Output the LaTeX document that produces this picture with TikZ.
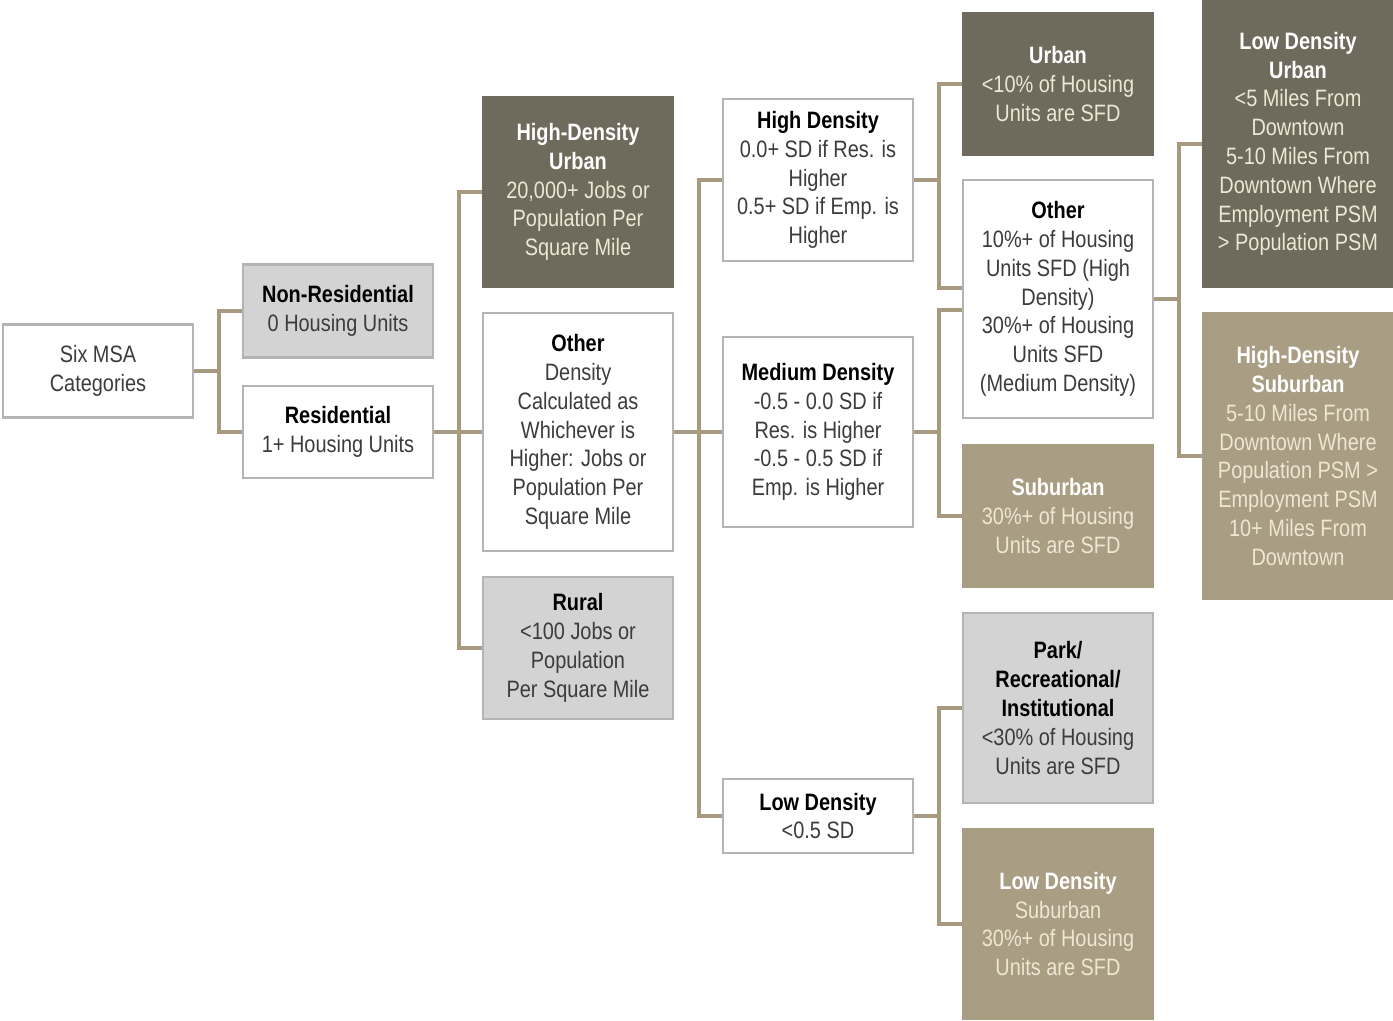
\documentclass[tikz,border=0pt]{standalone}
\usepackage{fontspec}
\setmainfont{Liberation Sans}[FakeStretch=0.84]
\usetikzlibrary{positioning}
\usepackage{xcolor}
\definecolor{urbandark}{HTML}{6E6A5C}
\definecolor{suburbtan}{HTML}{A99D83}
\definecolor{boxgrey}{HTML}{D3D3D3}
\definecolor{edgegrey}{HTML}{B4B4B4}
\definecolor{linktan}{HTML}{A89A80}
\definecolor{bodytext}{HTML}{3C3C3C}
\definecolor{paletext}{HTML}{EDE7D3}

\tikzset{
  cat/.style={draw=edgegrey,line width=1.2pt,minimum width=3.8cm,align=center,inner sep=2pt,
    font=\fontsize{13.5}{16.4}\selectfont},
  whitecat/.style={cat,fill=white,text=bodytext,execute at begin node=\colorlet{headcol}{black}},
  greycat/.style={cat,fill=boxgrey,text=bodytext,execute at begin node=\colorlet{headcol}{black}},
  darkcat/.style={cat,fill=urbandark,draw=urbandark,text=paletext,execute at begin node=\colorlet{headcol}{white}},
  tancat/.style={cat,fill=suburbtan,draw=suburbtan,text=paletext,execute at begin node=\colorlet{headcol}{white}},
  link/.style={draw=linktan,line width=2pt},
}
\newcommand{\cathead}[1]{{\bfseries\color{headcol}#1}}

\begin{document}
\begin{tikzpicture}[x=0.02cm,y=-0.02cm]
  \useasboundingbox (0,0) rectangle (1393,1021);

  % first split
  \node[whitecat,minimum height=1.86cm] (six) at (98,371) {Six MSA\\Categories};
  \node[greycat,minimum height=1.86cm] (nonres) at (338,311) {\cathead{Non-Residential}\\0 Housing Units};
  \node[whitecat,minimum height=1.84cm] (res) at (338,432) {\cathead{Residential}\\1+ Housing Units};

  % density of jobs or population
  \node[darkcat,minimum height=3.8cm] (hdurban) at (578,192) {\cathead{High-Density}\\\cathead{Urban}\\20,000+ Jobs or\\Population Per\\Square Mile};
  \node[whitecat,minimum height=4.76cm] (otherdens) at (578,432) {\cathead{Other}\\Density\\Calculated as\\Whichever is\\Higher: Jobs or\\Population Per\\Square Mile};
  \node[greycat,minimum height=2.84cm] (rural) at (578,648) {\cathead{Rural}\\<100 Jobs or\\Population\\Per Square Mile};

  % SD classes
  \node[whitecat,minimum height=3.24cm] (highd) at (818,180) {\cathead{High Density}\\0.0+ SD if Res. is\\Higher\\0.5+ SD if Emp. is\\Higher};
  \node[whitecat,minimum height=3.8cm] (medd) at (818,432) {\cathead{Medium Density}\\-0.5 - 0.0 SD if\\Res. is Higher\\-0.5 - 0.5 SD if\\Emp. is Higher};
  \node[whitecat,minimum height=1.48cm] (lowd) at (818,816) {\cathead{Low Density}\\<0.5 SD};

  % share of SFD
  \node[darkcat,minimum height=2.84cm] (urban) at (1058,84) {\cathead{Urban}\\<10\% of Housing\\Units are SFD};
  \node[whitecat,minimum height=4.76cm] (othersfd) at (1058,299) {\cathead{Other}\\10\%+ of Housing\\Units SFD (High\\Density)\\30\%+ of Housing\\Units SFD\\(Medium Density)};
  \node[tancat,minimum height=2.84cm] (suburban) at (1058,516) {\cathead{Suburban}\\30\%+ of Housing\\Units are SFD};
  \node[greycat,minimum height=3.8cm] (park) at (1058,708) {\cathead{Park/}\\\cathead{Recreational/}\\\cathead{Institutional}\\<30\% of Housing\\Units are SFD};
  \node[tancat,minimum height=3.8cm] (ldsuburb) at (1058,924) {\cathead{Low Density}\\Suburban\\30\%+ of Housing\\Units are SFD};

  % distance from downtown
  \node[darkcat,minimum height=5.7cm] (ldurban) at (1298,144) {\cathead{Low Density}\\\cathead{Urban}\\<5 Miles From\\Downtown\\5-10 Miles From\\Downtown Where\\Employment PSM\\> Population PSM};
  \node[tancat,minimum height=5.72cm] (hdsuburb) at (1298,456) {\cathead{High-Density}\\\cathead{Suburban}\\5-10 Miles From\\Downtown Where\\Population PSM >\\Employment PSM\\10+ Miles From\\Downtown};

  % tree links
  \draw[link] (six.east) -- ++(25,0) |- (nonres.west);
  \draw[link] (six.east) -- ++(25,0) |- (res.west);
  \draw[link] (res.east) -- ++(25,0) |- (hdurban.west);
  \draw[link] (res.east) -- ++(25,0) |- (otherdens.west);
  \draw[link] (res.east) -- ++(25,0) |- (rural.west);
  \draw[link] (otherdens.east) -- ++(25,0) |- (highd.west);
  \draw[link] (otherdens.east) -- ++(25,0) |- (medd.west);
  \draw[link] (otherdens.east) -- ++(25,0) |- (lowd.west);
  \draw[link] (highd.east) -- ++(25,0) |- (urban.west);
  \draw[link] (highd.east) -- ++(25,0) |- ([yshift=0.22cm]othersfd.west);
  \draw[link] (medd.east) -- ++(25,0) |- ([yshift=-0.22cm]othersfd.west);
  \draw[link] (medd.east) -- ++(25,0) |- (suburban.west);
  \draw[link] (lowd.east) -- ++(25,0) |- (park.west);
  \draw[link] (lowd.east) -- ++(25,0) |- (ldsuburb.west);
  \draw[link] (othersfd.east) -- ++(25,0) |- (ldurban.west);
  \draw[link] (othersfd.east) -- ++(25,0) |- (hdsuburb.west);
\end{tikzpicture}
\end{document}
